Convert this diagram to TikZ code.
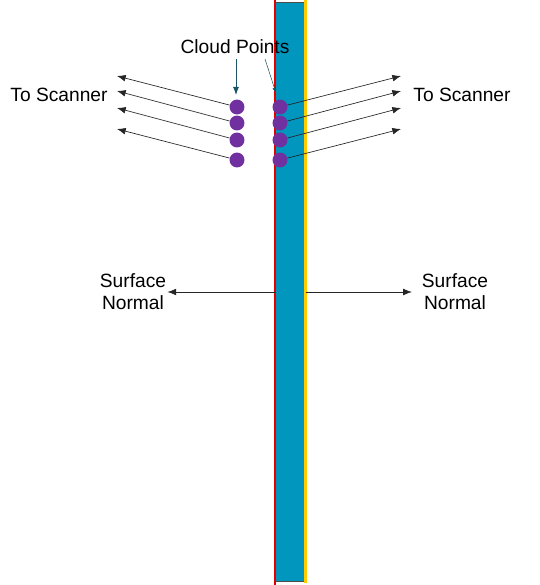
\documentclass[tikz,border=0pt]{standalone}
\usepackage{fontspec}
\setmainfont{Liberation Sans}
\usetikzlibrary{arrows.meta}
\definecolor{panelblue}{RGB}{0,150,190}
\definecolor{dotpurple}{RGB}{112,48,160}
\definecolor{edgeyellow}{RGB}{255,204,0}
\definecolor{pointerteal}{RGB}{25,85,100}

\begin{document}
\begin{tikzpicture}[x=0.75pt,y=-0.75pt,
  font=\fontsize{14.4}{16.5}\selectfont,
  cloudpt/.style={circle,fill=dotpurple,inner sep=0pt,minimum size=11.2pt},
  ray/.style={-{Latex[length=6.5pt,width=5pt]},black!85,line width=0.5pt}]
\useasboundingbox (0,0) rectangle (539,585);
% wall
\filldraw[fill=panelblue,draw=black!70,line width=0.6pt] (275,2) rectangle (304,581);
\draw[red!90!black,line width=2pt] (275,0) -- (275,585);
\draw[edgeyellow,line width=2.5pt] (305.5,0) -- (305.5,583);
% cloud points and rays to the scanners
\foreach \i/\y/\t in {1/107/76,2/123/91,3/140/108,4/160/129} {
  \node[cloudpt] (pl\i) at (237,\y) {};
  \node[cloudpt] (pr\i) at (280,\y) {};
  \coordinate (sl\i) at (117,\t);
  \coordinate (sr\i) at (401,\t);
  \draw[ray] (pl\i) -- (sl\i);
  \draw[ray] (pr\i) -- (sr\i);
}
\node (scanL) at (59,95) {To Scanner};
\node (scanR) at (462,95) {To Scanner};
% labels
\node (cloud) at (235,47) {Cloud Points};
\coordinate (cl1) at (236,95);
\coordinate (cl2) at (276,93);
\draw[-{Latex[length=6pt,width=4.5pt]},pointerteal,line width=0.7pt] (cloud.south -| cl1) -- (cl1);
\draw[-{Latex[length=4pt,width=3pt]},pointerteal,line width=0.4pt] (265,59) -- (cl2);
% surface normals
\node[align=center] (normL) at (133,292) {Surface\\Normal};
\node[align=center] (normR) at (455,292) {Surface\\Normal};
\coordinate (wallL) at (275,292);
\coordinate (wallR) at (306,292);
\draw[ray] (wallL) -- ([xshift=-2.5pt]normL.east);
\draw[ray] (wallR) -- ([xshift=-4pt]normR.west);
\end{tikzpicture}
\end{document}
